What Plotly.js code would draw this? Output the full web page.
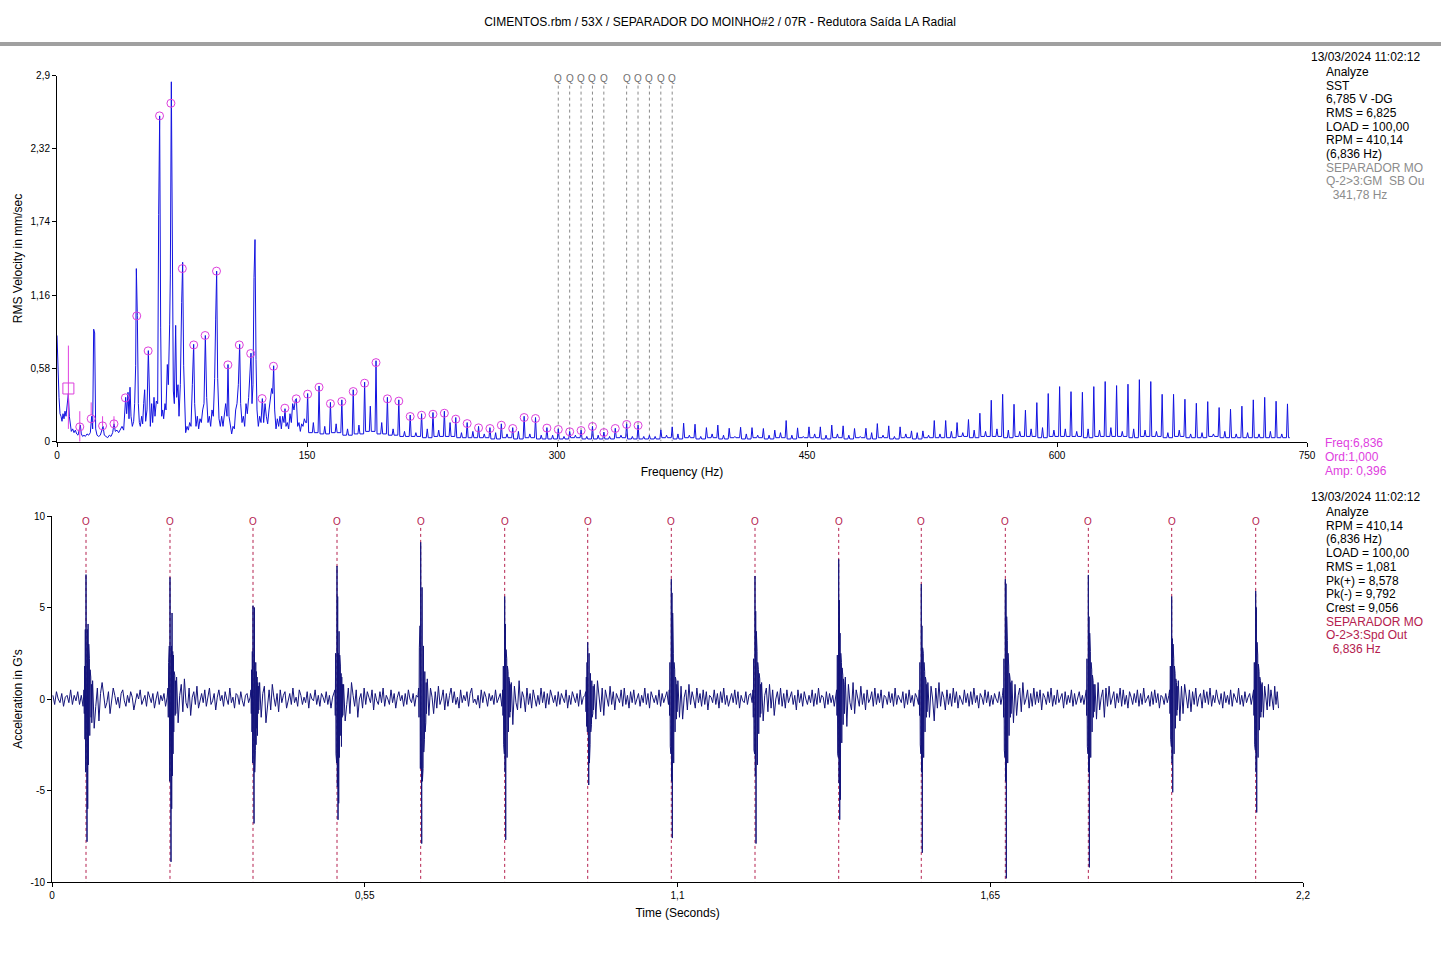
<!DOCTYPE html>
<html>
<head>
<meta charset="utf-8">
<script src="https://cdn.plot.ly/plotly-3.0.1.min.js"></script>
<style>html,body{margin:0;padding:0;background:#fff;}#chart{width:1441px;height:953px;}</style>
</head>
<body>
<div id="chart"></div>
<script>
// ---------------- DATA ----------------
const chartTitle = 'CIMENTOS.rbm / 53X / SEPARADOR DO MOINHO#2 / 07R - Redutora Saída LA Radial';
const runSpeedHz = 6.836;

// Spectrum, 0-150 Hz: line vertices (Hz, mm/s RMS)
const lowFreq = [0,0.6,1.2,1.8,2.4,3.0,3.6,4.2,4.8,5.4,6.0,6.8,7.4,8.0,8.6,9.4,10.2,11.0,11.8,12.6,13.4,14.0,14.6,15.4,16.2,17.0,18.0,19.0,20.0,20.8,21.4,22.0,22.6,23.2,24.0,25.0,26.0,26.8,27.6,28.4,29.4,30.4,31.4,32.4,33.4,34.2,35.0,36.0,37.0,38.0,39.0,40.0,40.6,41.2,41.8,42.6,43.2,43.8,44.4,45.2,46.0,46.6,47.2,47.6,48.2,48.8,49.4,50.0,50.8,51.4,52.0,52.6,53.2,54.0,54.8,55.4,56.0,56.8,57.4,58.2,58.8,59.6,60.4,61.0,61.6,62.2,62.8,63.4,64.0,64.8,65.4,66.2,66.8,67.6,68.0,68.6,69.2,69.8,70.4,71.2,71.8,72.6,73.2,74.0,74.8,75.4,76.0,76.6,77.2,78.0,78.8,79.6,80.4,81.2,82.0,82.6,83.4,84.2,85.0,85.8,86.6,87.4,88.2,89.0,89.8,90.6,91.4,92.2,93.0,93.8,94.6,95.2,95.8,96.4,97.2,98.0,98.8,99.6,100.4,101.2,102.0,102.6,103.2,104.0,104.8,105.6,106.4,107.2,108.0,108.8,109.6,110.2,111.0,111.8,112.6,113.4,114.2,115.0,115.8,116.4,117.0,117.6,118.2,118.8,119.4,120.0,120.8,121.6,122.4,123.2,124.0,124.8,125.6,126.4,127.2,128.0,128.8,129.4,130.0,130.6,131.4,132.2,133.0,133.8,134.6,135.4,136.2,136.8,137.4,138.2,139.0,139.8,140.6,141.4,142.2,143.0,143.6,144.4,145.2,146.0,146.8,147.6,148.4,149.2];
const lowAmp = [0.84,0.52,0.35,0.22,0.2,0.16,0.22,0.18,0.24,0.2,0.3,0.38,0.2,0.12,0.08,0.1,0.07,0.09,0.06,0.05,0.1,0.13,0.06,0.04,0.05,0.04,0.06,0.05,0.07,0.2,0.1,0.89,0.86,0.1,0.05,0.04,0.05,0.08,0.12,0.05,0.04,0.03,0.05,0.04,0.07,0.14,0.08,0.09,0.07,0.1,0.12,0.09,0.2,0.35,0.22,0.39,0.18,0.43,0.2,0.12,0.16,0.3,0.6,1.37,1.0,0.3,0.15,0.12,0.2,0.14,0.3,0.41,0.16,0.25,0.72,0.3,0.12,0.3,0.15,0.35,0.2,0.32,0.3,1.8,2.58,0.9,0.2,0.25,0.18,0.3,0.25,0.61,0.45,0.93,1.32,2.85,1.1,0.4,0.3,0.92,0.35,0.45,0.2,0.45,1.1,1.42,0.6,0.2,0.07,0.12,0.09,0.15,0.12,0.45,0.77,0.3,0.12,0.2,0.1,0.18,0.15,0.25,0.3,0.84,0.35,0.15,0.2,0.12,0.25,0.2,0.5,0.97,1.35,0.5,0.18,0.12,0.2,0.12,0.22,0.3,0.2,0.61,0.2,0.12,0.06,0.12,0.1,0.25,0.3,0.45,0.77,0.3,0.15,0.2,0.12,0.3,0.22,0.35,0.55,0.7,0.3,0.45,1.3,1.6,0.65,0.25,0.12,0.2,0.15,0.34,0.15,0.3,0.2,0.14,0.25,0.35,0.42,0.38,0.6,0.25,0.1,0.18,0.12,0.2,0.1,0.2,0.15,0.26,0.12,0.15,0.1,0.22,0.15,0.3,0.25,0.33,0.34,0.12,0.15,0.08,0.14,0.12,0.18,0.15];

// Spectrum, 150-740 Hz: running-speed harmonic peaks (orders 22..108)
const harmF = [150.39,157.23,164.06,170.90,177.74,184.57,191.41,198.24,205.08,211.92,218.75,225.59,232.42,239.26,246.10,252.93,259.77,266.60,273.44,280.28,287.11,293.95,300.78,307.62,314.46,321.29,328.13,334.96,341.80,348.64,355.47,362.31,369.14,375.98,382.82,389.65,396.49,403.32,410.16,417.00,423.83,430.67,437.50,444.34,451.18,458.01,464.85,471.68,478.52,485.36,492.19,499.03,505.86,512.70,519.54,526.37,533.21,540.04,546.88,553.72,560.55,567.39,574.22,581.06,587.90,594.73,601.57,608.40,615.24,622.08,628.91,635.75,642.58,649.42,656.26,663.09,669.93,676.76,683.60,690.44,697.27,704.11,710.94,717.78,724.62,731.45,738.29];
const harmA = [0.38,0.44,0.31,0.33,0.41,0.47,0.64,0.35,0.33,0.21,0.22,0.23,0.24,0.19,0.15,0.12,0.11,0.14,0.11,0.2,0.19,0.11,0.1,0.08,0.09,0.12,0.075,0.105,0.14,0.13,0.05,0.092,0.116,0.145,0.137,0.11,0.13,0.105,0.113,0.11,0.103,0.09,0.166,0.108,0.116,0.116,0.13,0.124,0.103,0.105,0.142,0.124,0.116,0.084,0.084,0.166,0.166,0.15,0.174,0.224,0.327,0.374,0.295,0.248,0.308,0.38,0.435,0.395,0.39,0.435,0.475,0.443,0.454,0.49,0.475,0.374,0.374,0.335,0.303,0.316,0.269,0.256,0.28,0.33,0.35,0.319,0.298];
const minorA = [0.15,0.12,0.14,0.1,0.13,0.28,0.15,0.1,0.08,0.07,0.1,0.09,0.15,0.07,0.08,0.06,0.07,0.06,0.08,0.06,0.05,0.05,0.04,0.05,0.04,0.05,0.04,0.05,0.04,0.04,0.04,0.05,0.06,0.05,0.04,0.06,0.05,0.04,0.06,0.05,0.05,0.07,0.05,0.04,0.06,0.05,0.06,0.05,0.04,0.07,0.05,0.04,0.06,0.07,0.05,0.06,0.08,0.07,0.09,0.08,0.1,0.09,0.08,0.1,0.11,0.09,0.1,0.08,0.1,0.09,0.11,0.08,0.1,0.09,0.08,0.07,0.09,0.06,0.07,0.06,0.08,0.06,0.07,0.06,0.08,0.06,0.05];
const valleyA = [0.07,0.06,0.07,0.05,0.06,0.08,0.06,0.05,0.04,0.04,0.03,0.04,0.04,0.03,0.03,0.03,0.02,0.03,0.02,0.03,0.02,0.02,0.02,0.03,0.02,0.02,0.02,0.03,0.02,0.02,0.02,0.03,0.02,0.03,0.02,0.03,0.02,0.03,0.02,0.03,0.02,0.03,0.02,0.03,0.03,0.02,0.03,0.02,0.03,0.02,0.03,0.02,0.03,0.02,0.03,0.03,0.03,0.04,0.03,0.04,0.04,0.03,0.04,0.04,0.03,0.04,0.04,0.04,0.03,0.04,0.04,0.04,0.03,0.04,0.04,0.03,0.04,0.03,0.03,0.04,0.03,0.03,0.03,0.03,0.03,0.03,0.03];

// Harmonic markers (orders 1..51) amplitudes
const markerAmp = [0.42,0.116,0.18,0.124,0.14,0.346,0.995,0.718,2.58,2.68,1.37,0.765,0.84,1.35,0.607,0.765,0.697,0.34,0.596,0.264,0.338,0.375,0.43,0.30,0.317,0.396,0.462,0.625,0.338,0.32,0.198,0.208,0.216,0.224,0.177,0.142,0.108,0.103,0.129,0.103,0.19,0.182,0.106,0.095,0.077,0.087,0.119,0.071,0.103,0.135,0.127];

// Cursor tick lines at first orders
const cursorF = [6.836,13.672,20.508,27.344,34.18];
const cursorHi = [0.76,0.24,0.31,0.2,0.2];
const cursorLo = [0.1,-0.06,0.21,0.12,0.12];

// GM sideband cursors (Q)
const qFreqs = [300.76,307.6,314.43,321.27,328.1,341.78,348.62,355.45,362.29,369.12];

// Spectrum axis ticks
const specXTicks = [0,150,300,450,600,750];
const specXText = ['0','150','300','450','600','750'];
const specYTicks = [0,0.58,1.16,1.74,2.32,2.9];
const specYText = ['0','0,58','1,16','1,74','2,32','2,9'];

// Waveform: impulse times (s) at 1x running speed
const impulseT = [0.0598,0.2075,0.3535,0.5012,0.6484,0.7961,0.9421,1.0891,1.2363,1.3835,1.5287,1.6765,1.8225,1.9691,2.1168];
const waveEnd = 2.158;
const bursts = [
 [0.5,-0.8,1.8,-2.2,3.8,-4.0,6.8,-5.2,3.6,-7.8,3.8,-6.0,4.1,-3.6,3.0,-2.8,2.2,-2.0,1.6,-1.6,1.2,-1.0,0.8,-1.3],
 [0.6,-1.0,2.0,-2.5,2.9,-4.5,6.65,-5.0,3.0,-8.9,2.9,-6.0,4.7,-4.2,2.6,-3.0,2.4,-1.8,1.5,-1.5,1.3,-0.9,1.0,-0.8],
 [0.5,-0.8,1.6,-1.8,2.6,-3.5,5.1,-4.2,2.5,-6.8,5.0,-4.0,2.3,-2.8,2.0,-2.5,1.5,-1.6,1.2,-2.0,0.9,-0.8,0.7,-0.6],
 [0.5,-0.9,2.5,-3.0,3.0,-3.5,7.27,-4.8,5.6,-6.6,2.5,-5.7,3.7,-3.2,2.4,-2.6,1.8,-2.0,1.4,-2.6,1.2,-1.0,0.8,-0.9],
 [0.6,-1.0,2.8,-3.2,4.0,-3.8,8.56,-5.0,7.0,-7.9,6.1,-4.5,4.0,-3.8,2.9,-2.9,2.2,-2.2,1.5,-1.8,1.1,-1.3,0.9,-0.8],
 [0.5,-0.9,1.8,-2.5,2.7,-3.0,5.6,-4.0,4.1,-7.7,2.7,-5.5,2.2,-3.2,1.8,-2.2,1.5,-1.8,1.2,-1.4,1.0,-1.0,0.8,-0.7],
 [0.4,-0.7,1.2,-1.5,2.0,-1.8,3.1,-2.2,2.5,-4.7,2.5,-3.5,1.8,-2.5,1.4,-1.8,1.3,-1.4,1.0,-1.0,0.9,-0.8,0.7,-0.6],
 [0.5,-0.9,2.0,-2.6,2.5,-3.0,6.55,-4.5,5.8,-7.6,4.7,-5.8,2.5,-3.5,2.0,-2.4,1.6,-1.8,1.2,-1.4,1.0,-1.1,0.8,-0.7],
 [0.5,-1.0,2.2,-2.8,2.6,-3.0,6.72,-4.2,4.8,-7.9,3.7,-6.5,2.6,-3.6,2.0,-2.5,1.6,-1.9,1.4,-1.5,1.1,-1.0,0.8,-0.8],
 [0.5,-0.9,2.4,-3.0,2.5,-3.2,7.63,-4.6,5.4,-6.6,3.6,-5.5,2.5,-3.4,2.0,-2.4,1.7,-1.8,1.3,-1.4,1.1,-1.0,0.8,-0.8],
 [0.5,-0.9,2.0,-2.5,2.8,-3.0,6.28,-4.0,4.0,-8.4,2.8,-4.2,2.5,-3.2,2.0,-2.2,1.5,-1.8,1.2,-1.4,1.0,-1.0,0.8,-0.7],
 [0.6,-1.0,2.2,-2.8,2.6,-3.2,6.55,-4.5,6.3,-9.8,4.5,-5.0,3.2,-3.5,2.5,-2.4,1.8,-2.0,1.4,-1.5,1.1,-1.0,0.9,-0.8],
 [0.5,-0.9,2.2,-2.6,2.8,-3.0,6.78,-4.0,4.5,-9.2,3.6,-4.5,2.6,-3.2,2.0,-2.2,1.6,-1.8,1.3,-1.4,1.0,-1.0,0.8,-0.7],
 [0.5,-0.8,1.8,-2.2,2.4,-2.6,5.6,-3.5,3.3,-5.1,3.0,-4.8,2.2,-3.0,1.8,-2.0,1.4,-1.6,1.1,-1.2,0.9,-0.9,0.7,-0.6],
 [0.5,-0.9,2.0,-2.5,2.6,-2.8,5.9,-4.0,5.0,-6.2,3.1,-5.2,2.4,-3.2,1.9,-2.2,1.5,-1.7,1.2,-1.3,1.0,-1.0,0.8,-0.7]
];
const noiseSegs = [
 [0.2,-0.3,0.4,0.0,-0.2,0.3,-0.4,0.1,0.2,-0.2,0.5,-0.3,0.2,-0.1,0.4,-0.3,0.2,-0.4],
 [1.0,-1.6,-0.4,0.6,-1.2,0.3,0.9,0.1,-0.5,-0.2,0.4,-0.8,-0.1,0.6,0.2,-0.3,0.1,-0.5,0.3,0.5,-0.1,-0.4,0.2,-0.2,0.4,0.1,-0.6,-0.2,0.3,0.0,0.5,-0.3,-0.1,0.2,-0.4,0.4,0.1,-0.2,0.3,-0.5,0.0,0.4,-0.3,0.2,-0.1,0.3,-0.4,0.1],
 [1.2,-1.3,0.2,0.8,-0.7,1.1,-0.2,-0.5,0.6,-0.9,0.1,0.4,-0.3,0.7,-0.5,0.0,0.3,-0.2,0.5,-0.4,0.2,0.6,-0.3,-0.1,0.3,-0.6,0.1,0.5,-0.1,0.2,-0.4,0.4,0.0,-0.3,0.6,-0.2,0.1,-0.5,0.3,0.2,-0.3,0.4,-0.1,-0.4,0.2,0.3,-0.2,0.1],
 [0.9,-1.0,0.3,0.7,-1.3,-0.2,0.5,-0.6,0.8,0.1,-0.4,0.3,-0.7,0.5,-0.2,0.2,0.4,-0.5,0.0,0.3,-0.3,0.6,-0.2,0.1,-0.4,0.5,0.2,-0.3,0.1,-0.2,0.4,-0.5,0.3,0.0,-0.1,0.5,-0.3,0.2,-0.4,0.3,0.1,-0.2,0.4,-0.3,0.2,-0.5,0.1,0.3],
 [0.8,-1.2,-0.3,0.6,-0.8,0.9,0.2,-0.4,0.5,-1.0,0.0,0.3,-0.5,0.6,-0.3,0.4,0.1,-0.2,0.5,-0.6,0.3,-0.1,-0.3,0.4,-0.2,0.6,-0.4,0.2,0.0,-0.3,0.5,-0.2,0.3,-0.5,0.1,0.4,-0.1,0.2,-0.4,0.3,-0.3,0.5,0.0,-0.2,0.3,-0.4,0.2,0.1],
 [1.1,-0.9,0.6,0.1,-0.8,0.4,-0.5,0.7,-0.3,0.0,0.5,-0.6,0.3,-0.4,0.2,0.6,-0.2,0.4,-0.3,0.1,-0.5,0.5,-0.2,0.2,-0.1,0.4,-0.4,0.3,0.6,-0.2,0.0,-0.3,0.2,-0.5,0.5,-0.2,0.4,0.1,-0.4,0.3,-0.1,0.2,-0.3,0.5,-0.2,0.0,0.3,-0.4],
 [0.9,-1.4,0.7,-0.2,-0.6,1.0,-0.5,0.4,0.1,-0.7,0.6,-0.3,0.3,-0.5,0.5,0.0,-0.4,0.2,-0.3,0.6,-0.2,0.4,-0.5,0.3,-0.3,0.5,0.1,-0.2,0.2,-0.4,0.4,-0.3,0.3,0.0,-0.2,0.5,-0.5,0.2,-0.3,0.4,0.1,-0.2,0.3,-0.4,0.5,-0.3,0.1,0.2],
 [0.8,-1.1,1.0,0.2,-0.7,0.6,-0.9,0.5,0.0,-0.4,0.7,-0.3,0.4,-0.6,0.3,0.1,-0.2,0.5,-0.4,0.6,-0.3,0.2,-0.5,0.4,-0.2,0.5,-0.3,0.0,0.3,-0.4,0.2,-0.2,0.6,-0.3,0.3,-0.5,0.4,0.1,-0.2,0.2,-0.3,0.5,-0.4,0.3,-0.2,0.1,0.4,-0.3],
 [1.0,-1.0,0.7,-1.1,0.1,0.5,-0.6,0.8,-0.3,0.4,0.0,-0.5,0.6,-0.2,0.3,-0.4,0.5,-0.3,0.4,-0.6,0.2,0.1,-0.2,0.5,-0.3,0.3,-0.5,0.4,-0.2,0.6,-0.3,0.2,-0.4,0.0,0.3,-0.2,0.5,-0.3,0.4,-0.5,0.2,-0.1,-0.2,0.4,-0.3,0.2,0.3,-0.2],
 [0.9,-1.2,0.2,0.6,-0.7,0.8,-0.5,0.5,-0.9,0.0,0.4,-0.3,0.6,-0.4,0.3,-0.5,0.5,-0.2,0.1,0.4,-0.3,0.2,-0.6,0.5,-0.2,0.3,-0.4,0.4,0.0,-0.3,0.2,-0.2,0.5,-0.4,0.3,-0.3,0.6,-0.2,0.2,0.1,-0.5,0.4,-0.3,0.3,-0.2,0.2,-0.4,0.1],
 [1.2,-1.5,0.8,-0.2,-0.6,0.9,-0.8,0.5,0.1,-0.4,0.7,-0.3,0.3,-0.6,0.5,-0.2,0.0,0.4,-0.4,0.6,-0.3,0.3,-0.2,0.5,-0.5,0.2,0.1,-0.3,0.4,-0.2,0.3,-0.4,0.6,-0.3,0.2,0.0,-0.2,0.4,-0.5,0.3,-0.3,0.5,-0.2,0.2,-0.4,0.3,0.1,-0.3],
 [0.9,-1.0,0.7,0.0,-1.2,0.6,-0.5,0.9,-0.4,0.4,0.1,-0.6,0.5,-0.3,0.3,-0.4,0.6,-0.2,0.4,-0.5,0.2,0.0,-0.3,0.5,-0.2,0.3,-0.4,0.4,-0.3,0.6,-0.2,0.2,-0.5,0.3,0.1,-0.3,0.5,-0.2,0.4,-0.4,0.2,-0.3,0.3,0.0,-0.2,0.4,-0.3,0.2],
 [1.0,-1.3,0.8,-0.9,0.2,0.6,-0.7,0.9,-0.3,0.0,0.5,-0.5,0.3,-0.4,0.6,-0.3,0.4,-0.2,0.5,-0.6,0.3,0.1,-0.3,0.4,-0.2,0.6,-0.4,0.2,-0.3,0.5,-0.2,0.0,0.3,-0.5,0.4,-0.3,0.2,-0.2,0.5,-0.4,0.3,-0.3,0.1,0.4,-0.2,0.2,-0.3,0.3],
 [0.8,-1.1,0.9,-0.6,0.1,0.5,-1.0,0.6,-0.4,0.7,-0.3,0.0,0.4,-0.5,0.3,-0.2,0.6,-0.4,0.5,-0.3,0.2,-0.5,0.4,0.1,-0.3,0.3,-0.2,0.5,-0.4,0.3,-0.3,0.6,-0.2,0.0,0.2,-0.4,0.4,-0.3,0.5,-0.2,0.3,-0.5,0.2,0.1,-0.3,0.3,-0.2,0.2],
 [1.0,-1.2,0.7,-0.8,0.8,0.0,-0.5,0.5,-0.7,0.4,-0.3,0.6,-0.4,0.1,0.3,-0.5,0.5,-0.2,0.4,-0.3,0.6,-0.4,0.2,-0.2,0.5,0.0,-0.3,0.3,-0.5,0.4,-0.2,0.2,-0.3,0.5,-0.4,0.3,0.1,-0.2,0.6,-0.3,0.2,-0.4,0.4,-0.2,0.1,0.3,-0.3,0.2],
 [0.9,-1.0,0.7,-0.2,-0.6,0.8,-0.4,0.5,0.0,-0.6,0.7,-0.3,0.4,-0.5]
];
const waveXTicks = [0,0.55,1.1,1.65,2.2];
const waveXText = ['0','0,55','1,1','1,65','2,2'];
const waveYTicks = [-10,-5,0,5,10];
const waveYText = ['-10','-5','0','5','10'];

// Text blocks
const dateText = '13/03/2024 11:02:12';
const infoTop = ['Analyze','SST','6,785 V -DG','RMS = 6,825','LOAD = 100,00','RPM = 410,14','(6,836 Hz)'];
const infoTopGray = ['SEPARADOR MO','Q-2>3:GM\u00a0 SB Ou','\u00a0\u00a0341,78 Hz'];
const cursorText = ['Freq:6,836','Ord:1,000','Amp: 0,396'];
const infoBottom = ['Analyze','RPM = 410,14','(6,836 Hz)','LOAD = 100,00','RMS = 1,081','Pk(+) = 8,578','Pk(-) = 9,792','Crest = 9,056'];
const infoBottomRed = ['SEPARADOR MO','O-2>3:Spd Out','\u00a0\u00a06,836 Hz'];

// ---------------- BUILD ----------------
const W = 1441, H = 953;
const FONT = 'Arial, "Liberation Sans", sans-serif';
const px = x => x / W;
const py = y => 1 - y / H;

// Spectrum line
const sx = [], sy = [];
lowFreq.forEach((f, i) => { sx.push(f); sy.push(lowAmp[i]); });
for (let i = 0; i < harmF.length; i++) {
  const f = harmF[i];
  const vPrev = i ? valleyA[i - 1] : lowAmp[lowAmp.length - 1];
  sx.push(f - 0.6); sy.push(vPrev);
  sx.push(f); sy.push(harmA[i]);
  sx.push(f + 0.6); sy.push(valleyA[i]);
  if (i < harmF.length - 1) {
    const mid = (f + harmF[i + 1]) / 2;
    sx.push(mid - 0.6); sy.push(valleyA[i]);
    sx.push(mid); sy.push(minorA[i]);
    sx.push(mid + 0.6); sy.push(valleyA[i]);
  } else {
    sx.push(f + 1.4); sy.push(valleyA[i]);
  }
}

// Marker positions from order x running speed
const mkx = markerAmp.map((a, i) => (i + 1) * runSpeedHz);

// Q lines
const qx = [], qy = [];
qFreqs.forEach(f => { qx.push(f, f, null); qy.push(2.82, 0, null); });

// cursor ticks
const cx = [], cy = [];
cursorF.forEach((f, i) => { cx.push(f, f, null); cy.push(cursorHi[i], cursorLo[i], null); });

// Waveform
const tx = [], ty = [];
const dtB = 0.0006, preB = 6;
function addNoise(arr, t0, t1) {
  const n = arr.length;
  for (let i = 0; i < n; i++) { tx.push(t0 + (t1 - t0) * (i + 0.5) / n); ty.push(arr[i]); }
}
let prevEnd = 0;
impulseT.forEach((t, k) => {
  const start = t - preB * dtB;
  addNoise(noiseSegs[k], prevEnd, start);
  bursts[k].forEach((v, i) => { tx.push(start + i * dtB); ty.push(v); });
  prevEnd = start + (bursts[k].length - 1) * dtB;
});
addNoise(noiseSegs[noiseSegs.length - 1], prevEnd, waveEnd);

// O lines
const ox = [], oy = [];
impulseT.forEach(t => { ox.push(t, t, null); oy.push(9.35, -10, null); });

const traces = [
  {x: qx, y: qy, xaxis: 'x', yaxis: 'y', mode: 'lines', line: {color: '#8a8a8a', width: 1, dash: 'dot'}, hoverinfo: 'skip'},
  {x: sx, y: sy, xaxis: 'x', yaxis: 'y', mode: 'lines', line: {color: '#1212e0', width: 1}, hoverinfo: 'skip'},
  {x: cx, y: cy, xaxis: 'x', yaxis: 'y', mode: 'lines', line: {color: '#e040e0', width: 1}, hoverinfo: 'skip'},
  {x: mkx.slice(1), y: markerAmp.slice(1), xaxis: 'x', yaxis: 'y', mode: 'markers', cliponaxis: false,
   marker: {symbol: 'circle-open', size: 8, color: '#dd3fdd', line: {width: 1, color: '#dd3fdd'}}, hoverinfo: 'skip'},
  {x: mkx.slice(0, 1), y: markerAmp.slice(0, 1), xaxis: 'x', yaxis: 'y', mode: 'markers', cliponaxis: false,
   marker: {symbol: 'square-open', size: 11, color: '#dd3fdd', line: {width: 1, color: '#dd3fdd'}}, hoverinfo: 'skip'},
  {x: ox, y: oy, xaxis: 'x2', yaxis: 'y2', mode: 'lines', line: {color: '#b4204e', width: 1, dash: 'dot'}, hoverinfo: 'skip'},
  {x: tx, y: ty, xaxis: 'x2', yaxis: 'y2', mode: 'lines', line: {color: '#14147a', width: 1}, hoverinfo: 'skip'}
];

const annotations = [];
function ann(text, x, y, color, anchor, size) {
  annotations.push({text: text, xref: 'paper', yref: 'paper', x: px(x), y: py(y), xanchor: anchor || 'left', yanchor: 'middle',
    showarrow: false, font: {family: FONT, size: size || 12, color: color || '#000'}});
}
ann(dateText, 1423, 57, '#000', 'right');
infoTop.forEach((t, i) => ann(t, 1324, 72 + i * 13.65, '#000'));
infoTopGray.forEach((t, i) => ann(t, 1324, 72 + (infoTop.length + i) * 13.65, '#8c8c8c'));
cursorText.forEach((t, i) => ann(t, 1323, 443 + i * 14, '#e040e0'));
ann(dateText, 1423, 497, '#000', 'right');
infoBottom.forEach((t, i) => ann(t, 1324, 512 + i * 13.7, '#000'));
infoBottomRed.forEach((t, i) => ann(t, 1324, 512 + (infoBottom.length + i) * 13.7, '#b4204e'));
qFreqs.forEach(f => annotations.push({text: 'Q', xref: 'x', yref: 'y', x: f, y: 2.875, showarrow: false,
  xanchor: 'center', yanchor: 'middle', font: {family: FONT, size: 10, color: '#707070'}}));
impulseT.forEach(t => annotations.push({text: 'O', xref: 'x2', yref: 'y2', x: t, y: 9.72, showarrow: false,
  xanchor: 'center', yanchor: 'middle', font: {family: FONT, size: 10, color: '#b4204e'}}));

const axisBase = {showgrid: false, zeroline: false, showline: true, linecolor: '#000', linewidth: 1,
  ticks: 'outside', ticklen: 4, tickcolor: '#000', tickfont: {family: FONT, size: 10, color: '#000'},
  automargin: false, fixedrange: true, tickmode: 'array'};

const layout = {
  width: W, height: H,
  margin: {l: 0, r: 0, t: 0, b: 0, pad: 0},
  paper_bgcolor: '#fff', plot_bgcolor: '#fff',
  showlegend: false,
  separators: ', ',
  font: {family: FONT, size: 12, color: '#000'},
  title: {text: chartTitle, x: 0.4997, xanchor: 'center', y: py(22), yanchor: 'middle', font: {family: FONT, size: 12, color: '#000'}},
  xaxis: Object.assign({}, axisBase, {domain: [px(57), px(1307)], range: [0, 750], anchor: 'y',
    tickvals: specXTicks, ticktext: specXText,
    title: {text: 'Frequency (Hz)', standoff: 8, font: {family: FONT, size: 12, color: '#000'}}}),
  yaxis: Object.assign({}, axisBase, {domain: [py(441.5), py(75.5)], range: [0, 2.9], anchor: 'x',
    tickvals: specYTicks, ticktext: specYText,
    title: {text: 'RMS Velocity in mm/sec', standoff: 5, font: {family: FONT, size: 12, color: '#000'}}}),
  xaxis2: Object.assign({}, axisBase, {domain: [px(52), px(1303)], range: [0, 2.2], anchor: 'y2',
    tickvals: waveXTicks, ticktext: waveXText,
    title: {text: 'Time (Seconds)', standoff: 8, font: {family: FONT, size: 12, color: '#000'}}}),
  yaxis2: Object.assign({}, axisBase, {domain: [py(882), py(516)], range: [-10, 10], anchor: 'x2',
    tickvals: waveYTicks, ticktext: waveYText,
    title: {text: "Acceleration in G's", standoff: 5, font: {family: FONT, size: 12, color: '#000'}}}),
  shapes: [
    {type: 'rect', xref: 'paper', yref: 'paper', x0: 0, x1: 1, y0: py(46), y1: py(42), fillcolor: '#a0a0a0', line: {width: 0}, layer: 'below'}
  ],
  annotations: annotations
};

Plotly.newPlot('chart', traces, layout, {displayModeBar: false, staticPlot: true});
</script>
</body>
</html>
